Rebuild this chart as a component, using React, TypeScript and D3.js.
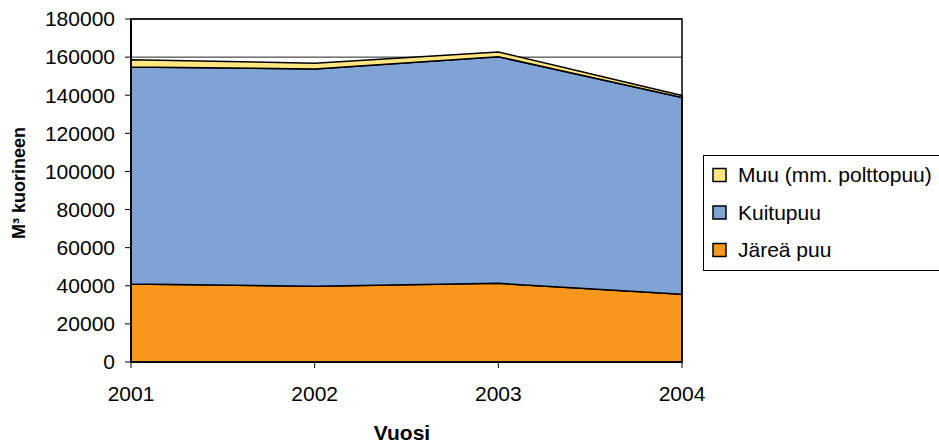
import React, { useEffect, useRef } from "react";
import * as d3 from "d3";

const years = ["2001", "2002", "2003", "2004"];
const jarea = [40900, 39700, 41300, 35500];
const kuitu = [113900, 114100, 118900, 103300];
const muu = [3800, 3000, 2500, 1000];
const yTicks = [0, 20000, 40000, 60000, 80000, 100000, 120000, 140000, 160000, 180000];

const seriesNames = ["Järeä puu", "Kuitupuu", "Muu (mm. polttopuu)"];
const colors = ["#F7981D", "#7EA3D4", "#FFE680"];

const App: React.FC = () => {
    const svgRef = useRef<SVGSVGElement>(null);

    useEffect(() => {
        if (!svgRef.current) return;
        const svg = d3.select(svgRef.current);
        svg.selectAll("*").remove();

        const left = 131, right = 682, top = 19, bottom = 362;
        const font = "Arial, 'Liberation Sans', sans-serif";
        const fs = 21;

        const x = d3.scalePoint<string>().domain(years).range([left, right]);
        const y = d3.scaleLinear().domain([0, 180000]).range([bottom, top]);

        const rows = years.map((yr, i) => ({ year: yr, j: jarea[i], k: kuitu[i], m: muu[i] }));
        const stacked = d3.stack<any>().keys(["j", "k", "m"])(rows);

        // gridlines
        svg.append("g")
            .selectAll("line")
            .data(yTicks)
            .join("line")
            .attr("x1", left).attr("x2", right)
            .attr("y1", (d) => y(d)).attr("y2", (d) => y(d))
            .attr("stroke", "#222").attr("stroke-width", 1);

        const area = d3.area<any>()
            .x((d) => x(d.data.year)!)
            .y0((d) => y(d[0]))
            .y1((d) => y(d[1]));

        svg.append("g")
            .selectAll("path")
            .data(stacked)
            .join("path")
            .attr("d", area)
            .attr("fill", (_, i) => colors[i])
            .attr("stroke", "#000")
            .attr("stroke-width", 1.5)
            .attr("stroke-linejoin", "round");

        // plot border
        svg.append("rect")
            .attr("x", left).attr("y", top)
            .attr("width", right - left).attr("height", bottom - top)
            .attr("fill", "none").attr("stroke", "#000").attr("stroke-width", 1.5);

        // y axis
        const ya = svg.append("g");
        ya.append("line").attr("x1", left).attr("x2", left).attr("y1", top).attr("y2", bottom)
            .attr("stroke", "#000").attr("stroke-width", 2);
        ya.selectAll("line.t").data(yTicks).join("line").attr("class", "t")
            .attr("x1", left - 6).attr("x2", left)
            .attr("y1", (d) => y(d)).attr("y2", (d) => y(d))
            .attr("stroke", "#000").attr("stroke-width", 1);
        ya.selectAll("text").data(yTicks).join("text")
            .attr("x", 115).attr("y", (d) => y(d))
            .attr("dy", "0.35em").attr("text-anchor", "end")
            .attr("font-family", font).attr("font-size", fs)
            .text((d) => String(d));

        // x axis
        const xa = svg.append("g");
        xa.append("line").attr("x1", left).attr("x2", right).attr("y1", bottom).attr("y2", bottom)
            .attr("stroke", "#000").attr("stroke-width", 2);
        xa.selectAll("line.t").data(years).join("line").attr("class", "t")
            .attr("x1", (d) => x(d)!).attr("x2", (d) => x(d)!)
            .attr("y1", bottom).attr("y2", bottom + 6)
            .attr("stroke", "#000").attr("stroke-width", 1);
        xa.selectAll("text").data(years).join("text")
            .attr("x", (d) => x(d)!).attr("y", 401)
            .attr("text-anchor", "middle")
            .attr("font-family", font).attr("font-size", fs)
            .text((d) => d);

        svg.append("text")
            .attr("x", 402).attr("y", 440)
            .attr("text-anchor", "middle")
            .attr("font-family", font).attr("font-size", fs).attr("font-weight", "bold")
            .text("Vuosi");

        svg.append("text")
            .attr("transform", "translate(25,183) rotate(-90)")
            .attr("text-anchor", "middle")
            .attr("font-family", font).attr("font-size", 18).attr("font-weight", "bold")
            .text("M³ kuorineen");

        // legend
        const lg = svg.append("g");
        lg.append("rect").attr("x", 703.5).attr("y", 155.5).attr("width", 240).attr("height", 115)
            .attr("fill", "#fff").attr("stroke", "#000").attr("stroke-width", 1);
        const order = [2, 1, 0];
        order.forEach((si, r) => {
            const cy = 175 + r * 37.5;
            lg.append("rect").attr("x", 713).attr("y", cy - 6.5).attr("width", 13).attr("height", 13)
                .attr("fill", colors[si]).attr("stroke", "#000").attr("stroke-width", 1.5);
            lg.append("text").attr("x", 738).attr("y", cy).attr("dy", "0.35em")
                .attr("font-family", font).attr("font-size", fs)
                .text(seriesNames[si]);
        });
    }, []);

    return (
        <svg ref={svgRef} width={939} height={446}
            style={{ position: "absolute", left: 0, top: 0, background: "#fff" }} />
    );
};

export default App;
